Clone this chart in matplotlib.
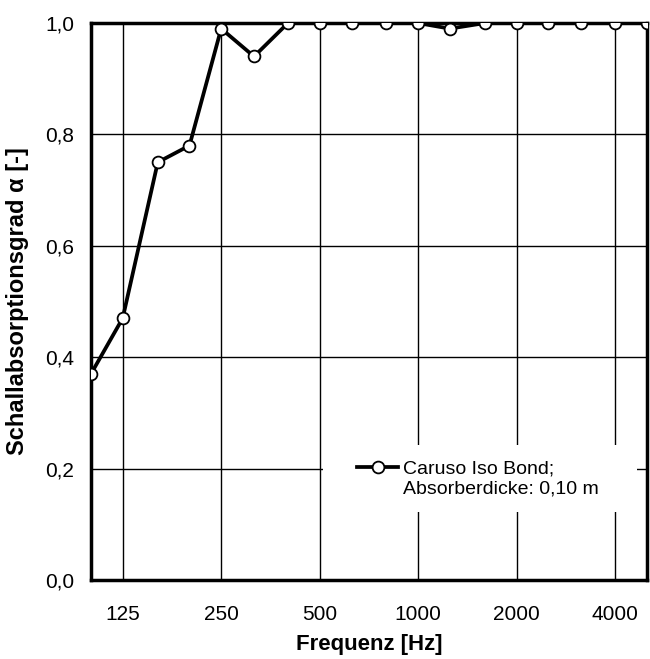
import matplotlib.pyplot as plt
from matplotlib.lines import Line2D
from matplotlib.patches import Rectangle

plt.rcParams['font.family'] = ['Liberation Sans', 'DejaVu Sans']

# Terzband-Mittenfrequenzen und Absorptionsgrade
freq = [100, 125, 160, 200, 250, 315, 400, 500, 630, 800, 1000,
        1250, 1600, 2000, 2500, 3150, 4000, 5000]
alpha = [0.37, 0.47, 0.75, 0.78, 0.99, 0.94, 1.0, 1.0, 1.0, 1.0, 1.0,
         0.99, 1.0, 1.0, 1.0, 1.0, 1.0, 1.0]
xticks = [125, 250, 500, 1000, 2000, 4000]
yticks = [0.0, 0.2, 0.4, 0.6, 0.8, 1.0]
legend_lines = ['Caruso Iso Bond;', 'Absorberdicke: 0,10 m']

fig = plt.figure(figsize=(6.5, 6.59), dpi=100)
ax = fig.add_axes([0.14, 0.12, 0.855, 0.845])

line, = ax.plot(freq, alpha, color='black', lw=2.7, marker='o', markersize=8.5,
                markerfacecolor='white', markeredgecolor='black',
                markeredgewidth=1.3, zorder=3)

ax.set_xscale('log')
ax.set_xlim(100, 5000)
ax.set_ylim(0, 1.0)
ax.set_xticks(xticks)
ax.set_xticklabels([str(t) for t in xticks])
ax.minorticks_off()
ax.set_yticks(yticks)
ax.set_yticklabels([f'{t:.1f}'.replace('.', ',') for t in yticks])
ax.tick_params(length=0, labelsize=15)
ax.tick_params(axis='x', pad=18)
ax.tick_params(axis='y', pad=12)

ax.grid(True, color='black', lw=1)
for s in ax.spines.values():
    s.set_linewidth(2.5)

ax.set_xlabel('Frequenz [Hz]', fontsize=16, fontweight='bold', labelpad=7)
ax.set_ylabel('Schallabsorptionsgrad α [-]', fontsize=17, fontweight='bold', labelpad=12)

# weisser Hintergrund der Legende (verdeckt das Gitter)
ax.add_patch(Rectangle((0.417, 0.122), 0.565, 0.12, transform=ax.transAxes,
                       facecolor='white', edgecolor='none', zorder=2.5))
blank = Line2D([], [], color='none')
ax.legend([line, blank], legend_lines, loc='center left',
          bbox_to_anchor=(0.462, 0.182), fontsize=14, frameon=False,
          handlelength=2.1, handletextpad=0.26, borderpad=0, labelspacing=0.1)

fig.savefig('out.png', dpi=100)
